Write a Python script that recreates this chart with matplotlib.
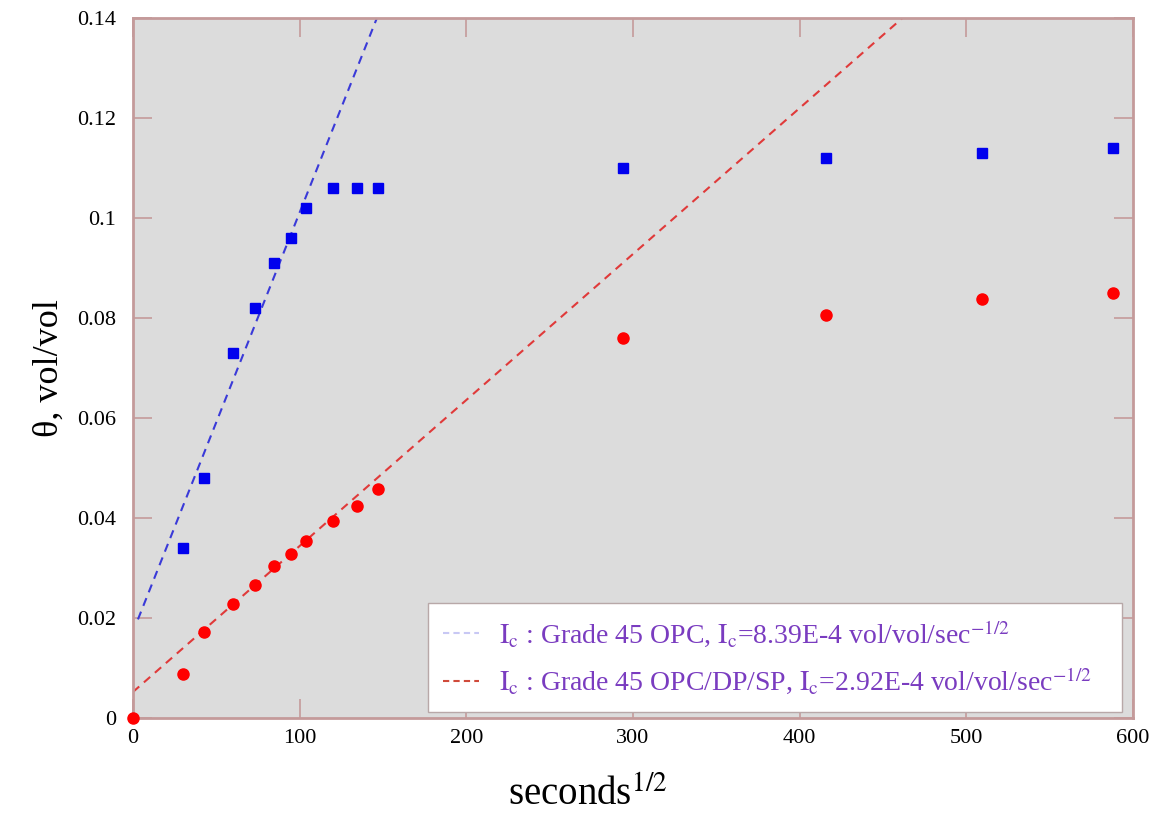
import numpy as np
import matplotlib
matplotlib.use("Agg")
import matplotlib.pyplot as plt

plt.rcParams['font.family'] = ['Liberation Serif', 'DejaVu Serif']
plt.rcParams['mathtext.fontset'] = 'stix'

# square root of elapsed time, s^1/2
t_opc = [30, 42.4, 60, 73.5, 84.9, 94.9, 103.9, 120, 134.2, 147, 293.9, 415.7, 509.1, 587.9]
theta_opc = [0.034, 0.048, 0.073, 0.082, 0.091, 0.096, 0.102, 0.106, 0.106, 0.106,
             0.110, 0.112, 0.113, 0.114]

t_blend = [0, 30, 42.4, 60, 73.5, 84.9, 94.9, 103.9, 120, 134.2, 147, 293.9, 415.7, 509.1, 587.9]
theta_blend = [0.0, 0.0088, 0.0172, 0.0228, 0.0266, 0.0303, 0.0328, 0.0354, 0.0394, 0.0424,
               0.0458, 0.076, 0.0806, 0.0838, 0.085]

# sorptivity fits
slope_opc, icpt_opc = 8.39e-4, 0.0172
slope_blend, icpt_blend = 2.92e-4, 0.0052

xticks = [0, 100, 200, 300, 400, 500, 600]
yticks = [0, 0.02, 0.04, 0.06, 0.08, 0.1, 0.12, 0.14]
ytick_labels = ['0', '0.02', '0.04', '0.06', '0.08', '0.1', '0.12', '0.14']

frame = '#c49a9a'

fig = plt.figure(figsize=(11.53, 8.23), dpi=100)
ax = fig.add_axes([0.1153, 0.1276, 0.8674, 0.8505])
ax.set_facecolor('#dcdcdc')

x1 = np.array([3, (0.14 - icpt_opc) / slope_opc])
ax.plot(x1, icpt_opc + slope_opc * x1, ls=(0, (4, 3)), color='#3a3ad8', lw=1.5)
x2 = np.array([0, (0.14 - icpt_blend) / slope_blend])
ax.plot(x2, icpt_blend + slope_blend * x2, ls=(0, (4, 3)), color='#e03a3a', lw=1.5)

ax.plot(t_opc, theta_opc, 's', color='#0000ee', ms=7, ls='none', zorder=3)
ax.plot(t_blend, theta_blend, 'o', color='#ff0000', ms=8, ls='none', zorder=3, clip_on=False)

ax.set_xlim(0, 600)
ax.set_ylim(0, 0.14)
ax.set_xticks(xticks)
ax.set_yticks(yticks)
ax.set_yticklabels(ytick_labels)
ax.tick_params(direction='in', length=14, width=1.2, color=frame, labelsize=16,
               top=True, right=True)
ax.tick_params(axis='y', pad=12)
ax.tick_params(axis='x', pad=8)
for s in ax.spines.values():
    s.set_color(frame)
    s.set_linewidth(2)

ax.set_xlabel('seconds$^{1/2}$', fontsize=28)
ax.xaxis.set_label_coords(0.455, -0.085)
ax.set_ylabel('θ, vol/vol', fontsize=26, labelpad=8)

h1, = ax.plot([], [], ls=(0, (3, 2)), color='#c8c8f4', lw=1.5)
h2, = ax.plot([], [], ls=(0, (3, 2)), color='#d04a3a', lw=1.5)
leg = ax.legend([h1, h2],
                [r'$\mathrm{I_c}$ : Grade 45 OPC, $\mathrm{I_c}$=8.39E-4 vol/vol/sec$^{-1/2}$',
                 r'$\mathrm{I_c}$ : Grade 45 OPC/DP/SP, $\mathrm{I_c}$=2.92E-4 vol/vol/sec$^{-1/2}$'],
                loc='lower left', bbox_to_anchor=(0.295, 0.009, 0.694, 0.165), mode='expand',
                fontsize=20, fancybox=False, framealpha=1, edgecolor='#b8a8a8',
                handlelength=1.3, handletextpad=0.7, borderpad=0.55, borderaxespad=0,
                labelspacing=0.6)
for txt in leg.get_texts():
    txt.set_color('#7a3cc0')

fig.savefig('out.png', dpi=100)
